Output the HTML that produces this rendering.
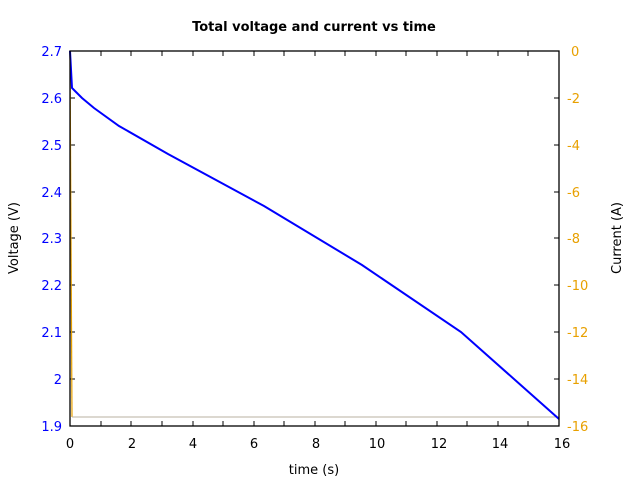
<!DOCTYPE html>
<html><head><meta charset="utf-8"><style>body{margin:0;background:#fff}svg{display:block}</style></head><body>
<svg width="640" height="480" xmlns="http://www.w3.org/2000/svg" font-family="DejaVu Sans, Liberation Sans, sans-serif" font-size="13">
<rect width="640" height="480" fill="#fff"/>
<text x="314" y="31" text-anchor="middle" font-weight="bold" font-size="13">Total voltage and current vs time</text>
<g stroke="#000" stroke-width="1">
<path d="M101,426v-5M131,426v-5M162,426v-5M193,426v-5M223,426v-5M254,426v-5M284,426v-5M315,426v-5M345,426v-5M376,426v-5M406,426v-5M437,426v-5M467,426v-5M498,426v-5M528,426v-5"/>
<path d="M101,51v5M131,51v5M162,51v5M193,51v5M223,51v5M254,51v5M284,51v5M315,51v5M345,51v5M376,51v5M406,51v5M437,51v5M467,51v5M498,51v5M528,51v5"/>
<path d="M70,98h5M70,145h5M70,192h5M70,238h5M70,285h5M70,332h5M70,379h5"/>
<path d="M559,98h-5M559,145h-5M559,192h-5M559,238h-5M559,285h-5M559,332h-5M559,379h-5"/>
</g>
<path d="M70,51L72,417" fill="none" stroke="#e8a000" stroke-width="1.2"/>
<path d="M72,417H559" fill="none" stroke="#b8b0a0" stroke-width="1"/>
<polyline fill="none" stroke="#0000ff" stroke-width="2" points="70,51 72,88 75,91 82,98 94,108 119,126 168,154 264,206 362,265 461,332 559,419"/>
<rect x="70" y="51" width="489" height="375" fill="none" stroke="#000" stroke-width="1.3"/>
<g fill="#0000ff" text-anchor="end">
<text x="62" y="56">2.7</text><text x="62" y="103">2.6</text><text x="62" y="150">2.5</text><text x="62" y="197">2.4</text><text x="62" y="243">2.3</text><text x="62" y="290">2.2</text><text x="62" y="337">2.1</text><text x="62" y="384">2</text><text x="62" y="431">1.9</text>
</g>
<g fill="#e8a000" text-anchor="start">
<text x="571" y="56">0</text><text x="567" y="103">-2</text><text x="567" y="150">-4</text><text x="567" y="197">-6</text><text x="567" y="243">-8</text><text x="567" y="290">-10</text><text x="567" y="337">-12</text><text x="567" y="384">-14</text><text x="567" y="431">-16</text>
</g>
<g text-anchor="middle">
<text x="70" y="448">0</text><text x="132" y="448">2</text><text x="193" y="448">4</text><text x="254" y="448">6</text><text x="316" y="448">8</text><text x="377" y="448">10</text><text x="439" y="448">12</text><text x="500" y="448">14</text><text x="562" y="448">16</text>
<text x="314" y="474">time (s)</text>
<text transform="translate(18,238) rotate(-90)">Voltage (V)</text>
<text transform="translate(621,238) rotate(-90)">Current (A)</text>
</g>
</svg>
</body></html>
